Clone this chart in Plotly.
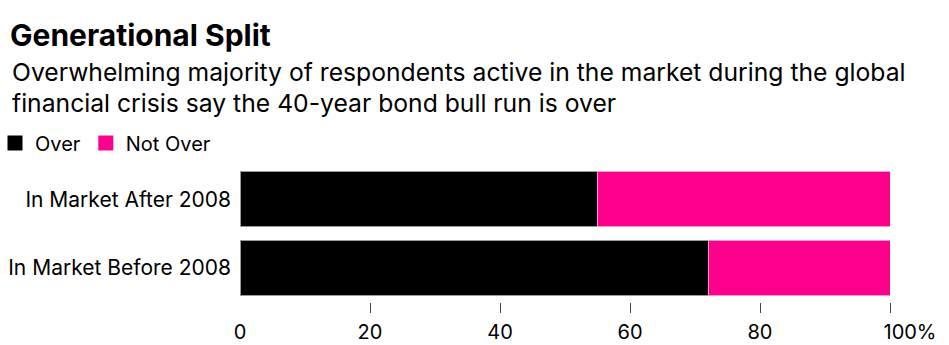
import plotly.graph_objects as go

# Survey split by when respondents entered the market (percent of respondents)
categories = ["In Market Before 2008", "In Market After 2008"]
over = [72, 55]
not_over = [28, 45]
x_ticks = [0, 20, 40, 60, 80, 100]
x_tick_labels = ["0", "20", "40", "60", "80", "100%"]
subtitle_lines = [
    "Overwhelming majority of respondents active in the market during the global",
    "financial crisis say the 40-year bond bull run is over",
]

FONT = "Inter, Liberation Sans, Arial, sans-serif"
BLACK = "#000000"
PINK = "#FF008C"
W, H = 949, 345
L, R, T, B = 240, 59, 165, 43
PW, PH = W - L - R, H - T - B


def px_x(px):
    return (px - L) / PW


def px_y(py):
    return 1 - (py - T) / PH


fig = go.Figure()
fig.add_trace(go.Bar(
    y=categories, x=over, name="Over", orientation="h", showlegend=False,
    marker=dict(color=BLACK, line=dict(color="#9a9a9a", width=1)),
))
fig.add_trace(go.Bar(
    y=categories, x=not_over, name="Not Over", orientation="h", showlegend=False,
    marker=dict(color=PINK, line=dict(color="#f59ccc", width=1)),
))
# legend keys as square swatches
for name, col in [("Over", BLACK), ("Not Over", PINK)]:
    fig.add_trace(go.Scatter(
        x=[None], y=[None], mode="markers", name=name,
        marker=dict(symbol="square", size=15, color=col),
    ))

# helper traces so the overlay axes get drawn
for ax in ["x2", "x3"]:
    fig.add_trace(go.Scatter(x=[0, 100], y=[categories[0]] * 2, xaxis=ax,
                             mode="markers", marker=dict(opacity=0),
                             showlegend=False, hoverinfo="skip"))

annotations = []
for i, line in enumerate(subtitle_lines):
    annotations.append(dict(
        text=line, xref="paper", yref="paper", x=px_x(10), y=px_y([72, 103][i]),
        xanchor="left", yanchor="middle", align="left", showarrow=False,
        font=dict(family=FONT, size=24.7, color="#000000"),
    ))

fig.update_layout(
    width=W, height=H,
    margin=dict(l=L, r=R, t=T, b=B, autoexpand=False),
    paper_bgcolor="white", plot_bgcolor="white",
    barmode="stack", bargap=0.2,
    font=dict(family=FONT, color="#000000", size=20),
    title=dict(
        text="<b>Generational Split</b>",
        xref="container", yref="container",
        x=10 / W, y=1 - 35 / H, xanchor="left", yanchor="middle",
        font=dict(family=FONT, size=30, color="#000000"),
    ),
    annotations=annotations,
    legend=dict(
        orientation="h", xref="paper", yref="paper",
        x=px_x(-5), y=px_y(143), xanchor="left", yanchor="middle",
        font=dict(family=FONT, size=20, color="#000000"),
        itemwidth=30, traceorder="normal",
        bgcolor="rgba(0,0,0,0)",
    ),
    xaxis=dict(
        range=[0, 100], tickvals=x_ticks[:-1], ticktext=x_tick_labels[:-1],
        ticks="outside", ticklen=12, tickcolor="rgba(0,0,0,0)",
        showgrid=False, zeroline=False, showline=False,
        tickfont=dict(family=FONT, size=20, color="#000000"),
        fixedrange=True, automargin=False,
    ),
    # tick marks (none at zero)
    xaxis2=dict(
        range=[0, 100], tickvals=x_ticks[1:], showticklabels=False,
        ticks="outside", ticklen=10, tickwidth=1, tickcolor="#444444",
        showgrid=False, zeroline=False, showline=False,
        overlaying="x", side="bottom", automargin=False,
    ),
    # end label with its percent sign trailing the tick
    xaxis3=dict(
        range=[0, 100], tickvals=x_ticks[-1:], ticktext=x_tick_labels[-1:],
        ticks="outside", ticklen=12, tickcolor="rgba(0,0,0,0)",
        ticklabelshift=20,
        showgrid=False, zeroline=False, showline=False,
        tickfont=dict(family=FONT, size=20, color="#000000"),
        overlaying="x", side="bottom", automargin=False,
    ),
    yaxis=dict(
        showgrid=False, zeroline=False, showline=False, ticks="",
        tickfont=dict(family=FONT, size=21, color="#000000"),
        ticklabelstandoff=8, automargin=False,
    ),
)

fig.write_html("out.html")
